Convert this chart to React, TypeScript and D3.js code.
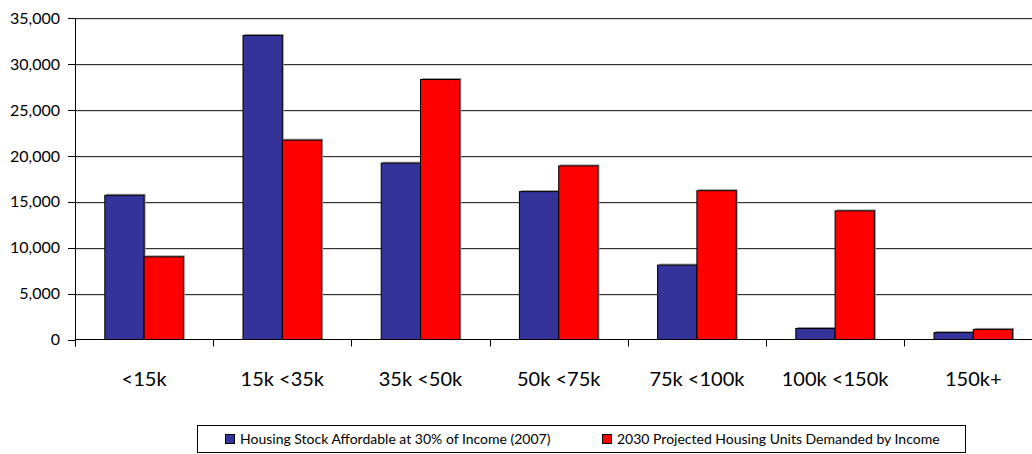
import React, { useEffect, useRef } from "react";
import * as d3 from "d3";

const categories = ["<15k", "15k <35k", "35k <50k", "50k <75k", "75k <100k", "100k <150k", "150k+"];
const seriesNames = [
  "Housing Stock Affordable at 30% of Income (2007)",
  "2030 Projected Housing Units Demanded by Income",
];
const stock2007 = [15700, 33100, 19200, 16100, 8100, 1200, 750];
const demand2030 = [9000, 21700, 28300, 18900, 16200, 14000, 1100];
const yTicks = [0, 5000, 10000, 15000, 20000, 25000, 30000, 35000];
const seriesColors = ["#333399", "#FF0000"];

const W = 1032;
const H = 454;
const FONT = "Lato, 'Open Sans', sans-serif";

export default function App() {
  const ref = useRef<SVGSVGElement>(null);

  useEffect(() => {
    const svg = d3.select(ref.current);
    svg.selectAll("*").remove();

    const left = 75;
    const top = 18;
    const bottom = 339.5;
    const catW = 138.2;

    const x = d3
      .scaleBand<string>()
      .domain(categories)
      .range([left, left + catW * categories.length])
      .padding(0);
    const inner = d3
      .scaleBand<number>()
      .domain([0, 1])
      .range([29.8, catW - 29.8])
      .padding(0);
    const y = d3.scaleLinear().domain([0, 35000]).range([bottom, top]);

    const g = svg.append("g");

    // horizontal gridlines
    g.selectAll("line.grid-shadow")
      .data(yTicks.filter((t) => t > 0))
      .join("line")
      .attr("x1", left)
      .attr("x2", W)
      .attr("y1", (d) => Math.round(y(d)) + 1)
      .attr("y2", (d) => Math.round(y(d)) + 1)
      .attr("stroke", "#b0b0b0")
      .attr("stroke-width", 1);
    g.selectAll("line.grid")
      .data(yTicks.filter((t) => t > 0))
      .join("line")
      .attr("x1", left)
      .attr("x2", W)
      .attr("y1", (d) => Math.round(y(d)) + 0.5)
      .attr("y2", (d) => Math.round(y(d)) + 0.5)
      .attr("stroke", "#333")
      .attr("stroke-width", 1);

    // bars
    const rows = categories.map((c, i) => ({ c, vals: [stock2007[i], demand2030[i]] }));
    const groups = g
      .selectAll("g.cat")
      .data(rows)
      .join("g")
      .attr("transform", (d) => `translate(${x(d.c)},0)`);

    groups
      .selectAll("rect.shadow")
      .data((d) => d.vals.map((v, s) => ({ v, s })))
      .join("rect")
      .attr("x", (d) => inner(d.s)! + 1.5)
      .attr("y", (d) => y(d.v) - 1.5)
      .attr("width", inner.bandwidth())
      .attr("height", (d) => bottom - y(d.v) + 1.5)
      .attr("fill", "#9a9a9a");

    groups
      .selectAll("rect.bar")
      .data((d) => d.vals.map((v, s) => ({ v, s })))
      .join("rect")
      .attr("x", (d) => inner(d.s)!)
      .attr("y", (d) => y(d.v))
      .attr("width", inner.bandwidth())
      .attr("height", (d) => bottom - y(d.v))
      .attr("fill", (d) => seriesColors[d.s])
      .attr("stroke", "#000")
      .attr("stroke-width", 1);

    // x axis baseline and ticks
    g.append("line")
      .attr("x1", left)
      .attr("x2", W)
      .attr("y1", bottom)
      .attr("y2", bottom)
      .attr("stroke", "#000")
      .attr("stroke-width", 1);
    const xTickPos = d3.range(categories.length + 1).map((i) => left + i * catW);
    g.selectAll("line.xtick")
      .data(xTickPos)
      .join("line")
      .attr("x1", (d) => Math.round(d) + 0.5)
      .attr("x2", (d) => Math.round(d) + 0.5)
      .attr("y1", bottom)
      .attr("y2", bottom + 7)
      .attr("stroke", "#000");

    g.selectAll("text.xlab")
      .data(categories)
      .join("text")
      .attr("x", (d) => x(d)! + catW / 2)
      .attr("y", 385.5)
      .attr("text-anchor", "middle")
      .attr("font-family", FONT)
      .attr("font-size", 20)
      .attr("fill", "#000")
      .text((d) => d);

    // y axis
    g.append("line")
      .attr("x1", left + 0.5)
      .attr("x2", left + 0.5)
      .attr("y1", top)
      .attr("y2", bottom + 7)
      .attr("stroke", "#000");
    g.selectAll("line.ytick")
      .data(yTicks)
      .join("line")
      .attr("x1", left - 7)
      .attr("x2", left)
      .attr("y1", (d) => Math.round(y(d)) + 0.5)
      .attr("y2", (d) => Math.round(y(d)) + 0.5)
      .attr("stroke", "#000");
    const fmt = d3.format(",");
    g.selectAll("text.ylab")
      .data(yTicks)
      .join("text")
      .attr("x", 60)
      .attr("y", (d) => y(d))
      .attr("dy", "0.36em")
      .attr("text-anchor", "end")
      .attr("font-family", FONT)
      .attr("font-size", 16)
      .attr("fill", "#000")
      .text((d) => fmt(d));

    // legend
    const lg = svg.append("g");
    lg.append("rect")
      .attr("x", 197.5)
      .attr("y", 425.5)
      .attr("width", 768)
      .attr("height", 27)
      .attr("fill", "#fff")
      .attr("stroke", "#000")
      .attr("stroke-width", 1);
    const legendX = [225, 602];
    seriesNames.forEach((name, i) => {
      lg.append("rect")
        .attr("x", legendX[i] + 0.5)
        .attr("y", 434.5)
        .attr("width", 9)
        .attr("height", 9)
        .attr("fill", seriesColors[i])
        .attr("stroke", "#000");
      lg.append("text")
        .attr("x", legendX[i] + 15)
        .attr("y", 444)
        .attr("font-family", FONT)
        .attr("font-size", 14)
        .attr("fill", "#000")
        .text(name);
    });
  }, []);

  return (
    <div style={{ position: "fixed", left: 0, top: 0 }}>
      <svg ref={ref} width={W} height={H} style={{ display: "block", background: "#fff" }} />
    </div>
  );
}
